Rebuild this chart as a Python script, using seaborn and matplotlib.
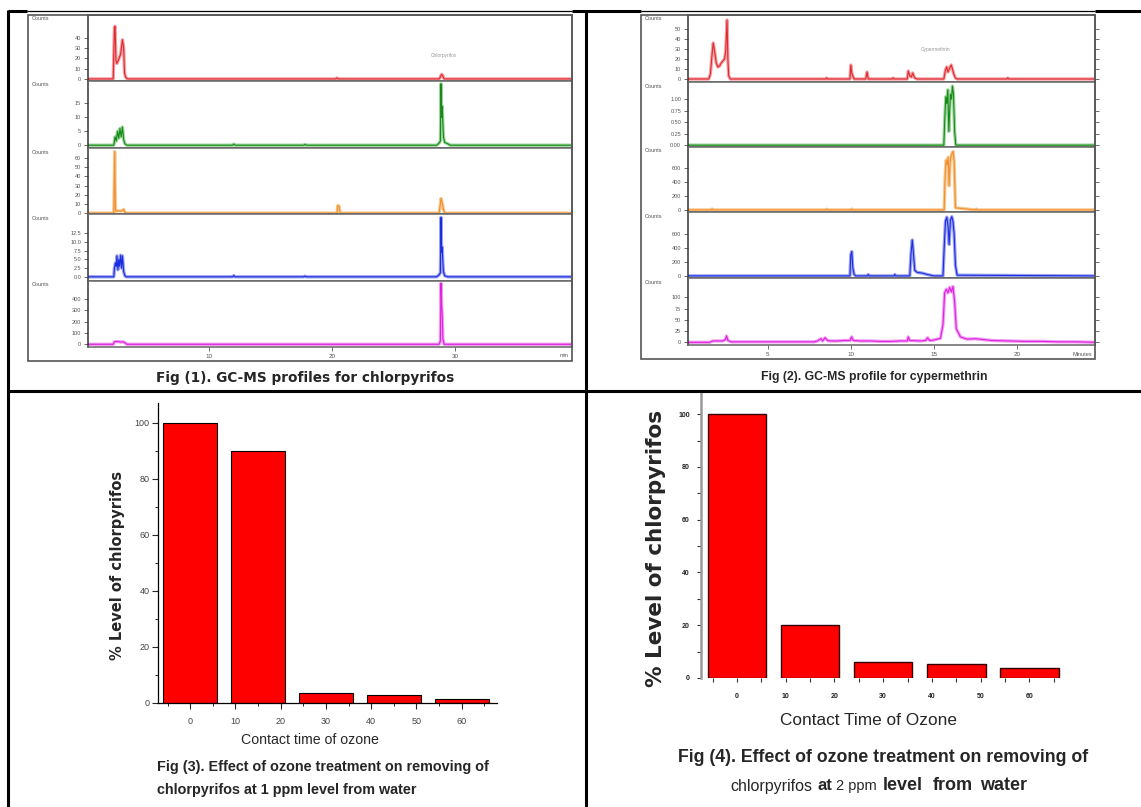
import numpy as np
import pandas as pd
import matplotlib
matplotlib.use('Agg')
import matplotlib.pyplot as plt
import seaborn as sns
from matplotlib.lines import Line2D
from matplotlib.patches import Rectangle
from matplotlib.ticker import MultipleLocator, FixedLocator

# ---------------- DATA ----------------
# Fig 1: GC-MS chromatograms for chlorpyrifos (retention time in min)
c1_red_x = [0.15, 2.2, 2.3, 2.35, 2.42, 2.5, 2.65, 2.8, 2.95, 3.05, 3.12, 3.2, 3.3, 3.4, 20.3, 20.4, 20.5, 28.7, 28.8, 28.9, 29.0, 29.1, 39.5]
c1_red_y = [0, 0, 50, 51, 18, 15, 19, 24, 38, 30, 6, 2, 0.5, 0, 0, 1, 0, 0, 2, 4.5, 3, 0, 0]
c1_green_x = [0.15, 2.25, 2.35, 2.45, 2.55, 2.65, 2.75, 2.85, 2.95, 3.05, 3.15, 3.3, 11.9, 12.0, 12.1, 17.7, 17.8, 17.9, 28.5, 28.7, 28.8, 28.85, 28.9, 28.95, 29.0, 29.05, 29.15, 29.4, 29.6, 39.5]
c1_green_y = [0, 0, 3, 1.5, 5, 2.5, 6, 3, 6.5, 2, 0.5, 0, 0, 0.4, 0, 0, 0.3, 0, 0, 0.8, 1.5, 22, 10, 14, 8, 3, 1, 0.5, 0, 0]
c1_orange_x = [0.15, 2.25, 2.32, 2.38, 2.45, 2.6, 2.8, 2.95, 3.05, 3.15, 3.25, 20.4, 20.45, 20.55, 20.65, 28.7, 28.8, 28.85, 28.95, 29.05, 29.15, 39.5]
c1_orange_y = [0, 0, 67, 3, 2, 2.5, 2, 3, 4, 1, 0, 0, 8, 8, 0, 0, 10, 16, 11, 4, 0, 0]
c1_blue_x = [0.15, 2.25, 2.3, 2.38, 2.45, 2.5, 2.58, 2.65, 2.72, 2.8, 2.88, 2.95, 3.05, 3.15, 3.25, 11.9, 12.0, 12.1, 17.7, 17.8, 17.9, 28.5, 28.7, 28.8, 28.85, 28.9, 28.95, 29.0, 29.05, 29.15, 29.4, 39.5]
c1_blue_y = [0, 0, 2.5, 4, 3, 6, 2, 5, 3, 6.2, 2.5, 6, 1.5, 0.3, 0, 0, 0.35, 0, 0, 0.2, 0, 0, 0.6, 1.2, 17, 7, 8.5, 4, 1.5, 0.3, 0, 0]
c1_mag_x = [0.15, 2.2, 2.3, 2.5, 2.8, 3.0, 3.2, 3.3, 28.7, 28.8, 28.85, 28.9, 28.95, 29.0, 29.1, 39.5]
c1_mag_y = [0, 0, 22, 25, 20, 22, 10, 0, 0, 30, 540, 350, 250, 50, 0, 0]

c1_red_ticks = [0, 10, 20, 30, 40]
c1_green_ticks = [0, 5, 10, 15]
c1_orange_ticks = [0, 10, 20, 30, 40, 50, 60]
c1_blue_ticks = [0.0, 2.5, 5.0, 7.5, 10.0, 12.5]
c1_mag_ticks = [0, 100, 200, 300, 400]
c1_time_ticks = [10, 20, 30]

# Fig 2: GC-MS chromatograms for cypermethrin
c2_red_x = [0.2, 1.45, 1.55, 1.65, 1.72, 1.8, 1.9, 2.0, 2.1, 2.2, 2.3, 2.4, 2.47, 2.55, 2.6, 2.65, 2.75, 8.5, 8.55, 8.6, 9.95, 10.0, 10.06, 10.12, 10.2, 10.9, 10.98, 11.05, 12.5, 12.55, 12.6, 13.4, 13.46, 13.55, 13.65, 13.72, 13.85, 14.0, 15.6, 15.7, 15.77, 15.85, 15.95, 16.05, 16.2, 16.3, 16.4, 19.4, 19.45, 19.5, 24.7]
c2_red_y = [0, 0, 5, 25, 36, 28, 16, 12, 13, 16, 18, 20, 28, 59, 20, 3, 0, 0, 1, 0, 0, 14, 6, 3, 0, 0, 7, 0, 0, 1, 0, 0, 8, 3, 2, 6, 1, 0, 0, 9, 12, 7, 11, 14, 5, 1, 0, 0, 1, 0, 0]
c2_green_x = [0.2, 15.6, 15.66, 15.72, 15.78, 15.84, 15.9, 15.96, 16.0, 16.06, 16.12, 16.18, 16.25, 16.32, 24.7]
c2_green_y = [0, 0, 0.6, 1.05, 0.9, 1.2, 0.3, 0.8, 1.1, 1.0, 1.28, 1.1, 0.3, 0, 0]
c2_orange_x = [0.2, 1.6, 1.65, 1.7, 8.5, 8.55, 8.6, 10.0, 10.05, 10.1, 15.62, 15.68, 15.74, 15.8, 15.86, 15.92, 15.98, 16.04, 16.1, 16.16, 16.22, 16.3, 17.5, 17.55, 17.6, 24.7]
c2_orange_y = [0, 0, 12, 0, 0, 10, 0, 0, 12, 0, 0, 500, 720, 650, 760, 350, 700, 780, 820, 845, 700, 30, 0, 12, 0, 0]
c2_blue_x = [0.2, 9.95, 10.0, 10.06, 10.12, 10.2, 10.3, 11.0, 11.05, 11.1, 12.6, 12.65, 12.7, 13.55, 13.62, 13.7, 13.76, 13.85, 14.0, 14.3, 14.6, 15.0, 15.55, 15.62, 15.7, 15.78, 15.86, 15.92, 16.0, 16.08, 16.15, 16.22, 16.3, 16.4, 24.7]
c2_blue_y = [0, 0, 300, 348, 120, 20, 0, 0, 20, 0, 0, 20, 0, 0, 300, 514, 350, 80, 50, 40, 20, 0, 0, 400, 780, 840, 700, 450, 800, 847, 780, 600, 150, 10, 0]
c2_mag_x = [0.2, 1.5, 1.7, 2.0, 2.3, 2.45, 2.52, 2.6, 2.8, 7.8, 8.0, 8.2, 8.3, 8.45, 8.6, 8.8, 9.2, 9.6, 9.95, 10.05, 10.15, 10.6, 11.2, 11.8, 12.4, 13.0, 13.4, 13.46, 13.55, 14.2, 14.5, 14.62, 14.75, 15.0, 15.4, 15.55, 15.65, 15.75, 15.85, 15.95, 16.05, 16.15, 16.25, 16.35, 16.6, 17.0, 17.5, 18.0, 18.5, 19.5, 20.5, 21.5, 22.5, 23.5, 24.7]
c2_mag_y = [0, 0, 3, 3, 3, 6, 14, 4, 1, 1, 3, 8, 3, 10, 4, 3, 3, 4, 4, 12, 4, 3, 3, 2, 2, 3, 3, 12, 4, 3, 4, 10, 4, 5, 9, 40, 110, 118, 110, 122, 112, 124, 90, 30, 12, 7, 8, 6, 4, 3, 2, 2, 1, 1, 0]

c2_red_ticks = [0, 10, 20, 30, 40, 50]
c2_green_ticks = [0.0, 0.25, 0.5, 0.75, 1.0]
c2_orange_ticks = [0, 200, 400, 600]
c2_blue_ticks = [0, 200, 400, 600]
c2_mag_ticks = [0, 25, 50, 75, 100]
c2_time_ticks = [5, 10, 15, 20]

# Fig 3 / Fig 4: % level of chlorpyrifos vs contact time of ozone (min)
contact_time = [0, 15, 30, 45, 60]
level_1ppm = [100, 90, 3.7, 2.8, 1.6]
level_2ppm = [100, 20, 6, 5.3, 3.8]
time_ticks = [0, 10, 20, 30, 40, 50, 60]
level_ticks = [0, 20, 40, 60, 80, 100]

# ---------------- LAYOUT HELPERS ----------------
sns.set_style('ticks')
plt.rcParams['font.family'] = ['Liberation Sans', 'DejaVu Sans']
SANS = ['Liberation Sans', 'DejaVu Sans']
WIDE = ['DejaVu Sans']

W, H = 1141, 807
fig = plt.figure(figsize=(W / 100, H / 100), dpi=100)


def ax_at(x0, y0, x1, y1):
    return fig.add_axes([x0 / W, 1 - y1 / H, (x1 - x0) / W, (y1 - y0) / H])


def ftext(x, y, s, **kw):
    return fig.text(x / W, 1 - y / H, s, **kw)


def fline(x0, y0, x1, y1, lw=2.2, color='black'):
    fig.add_artist(Line2D([x0 / W, x1 / W], [1 - y0 / H, 1 - y1 / H], color=color, lw=lw,
                          transform=fig.transFigure, solid_capstyle='butt'))


def fmt(v):
    if isinstance(v, float) and v != int(v):
        return f'{v:.2f}' if abs(v) < 1 else f'{v:.1f}'
    return str(int(v))


def chrom_panel(rows, left, right, bounds, xlim, xticks, box, right_ticks, min_label):
    bx0, by0, bx1, by1 = box
    fig.add_artist(Rectangle((bx0 / W, 1 - by1 / H), (bx1 - bx0) / W, (by1 - by0) / H,
                             transform=fig.transFigure, fill=False, ec='#555555', lw=1.2))
    for i, (xs, ys, color, light, ylim, yticks, yfmt) in enumerate(rows):
        ax = ax_at(left, bounds[i], right, bounds[i + 1])
        df = pd.DataFrame({'t': xs, 'v': ys})
        sns.lineplot(data=df, x='t', y='v', ax=ax, color=light, lw=2.4, sort=False, estimator=None)
        sns.lineplot(data=df, x='t', y='v', ax=ax, color=color, lw=0.8, sort=False, estimator=None)
        ax.set_xlim(*xlim)
        ax.set_ylim(*ylim)
        ax.set_xlabel('')
        ax.set_ylabel('')
        ax.set_yticks(yticks)
        ax.set_yticklabels([yfmt(v) for v in yticks], fontsize=4, color='#555555')
        ax.tick_params(axis='y', direction='out', length=3, width=0.6, pad=2, colors='#555555',
                       right=right_ticks)
        for sp in ax.spines.values():
            sp.set_color('#666666')
            sp.set_linewidth(1.1)
        ax.spines['left'].set_color('#333333')
        ftext(bx0 + 4, bounds[i] + 4, 'Counts', fontsize=4, color='#555555', va='center', ha='left')
        if i == len(rows) - 1:
            ax.set_xticks(xticks)
            ax.set_xticklabels([str(v) for v in xticks], fontsize=4.5, color='#555555')
            ax.tick_params(axis='x', direction='out', length=3, width=0.6, pad=2, colors='#555555')
        else:
            ax.set_xticks([])
    ftext(bx1 - 3, by1 - 5, min_label, fontsize=4, color='#555555', ha='right', va='center')


# ---------------- TABLE BORDERS ----------------
fline(8, 11, 27, 11)
fline(27, 11, 572, 11, lw=0.9)
fline(572, 11, 641, 11)
fline(641, 11, 1095, 11, lw=0.9)
fline(1095, 11, 1141, 11)
fline(8, 10, 8, 807)
fline(586, 10, 586, 807)
fline(8, 391, 1141, 391)

# ---------------- FIG 1 ----------------
rows1 = [
    (c1_red_x, c1_red_y, '#e0282e', '#f4a0a4', (-2, 62), c1_red_ticks, fmt),
    (c1_green_x, c1_green_y, '#168a16', '#9ed49e', (-1, 23), c1_green_ticks, fmt),
    (c1_orange_x, c1_orange_y, '#f09030', '#f8c890', (-1, 71), c1_orange_ticks, fmt),
    (c1_blue_x, c1_blue_y, '#1c2ce0', '#9aa2f0', (-1.2, 18), c1_blue_ticks, lambda v: f'{v:.1f}'),
    (c1_mag_x, c1_mag_y, '#e020e0', '#f09cf0', (-24, 560), c1_mag_ticks, fmt),
]
chrom_panel(rows1, 88, 572, [15, 81, 148, 214, 281, 347], (0.15, 39.5), c1_time_ticks,
            (28, 15, 572, 361), False, 'min')
ftext(444, 56, 'Chlorpyrifos', fontsize=3.5, color='#999999', ha='center', va='center')
ftext(305, 378, 'Fig (1). GC-MS profiles for chlorpyrifos', fontsize=9.8, fontweight='bold',
      family=WIDE, ha='center', va='center')

# ---------------- FIG 2 ----------------
rows2 = [
    (c2_red_x, c2_red_y, '#e0282e', '#f4a0a4', (-3, 64), c2_red_ticks, fmt),
    (c2_green_x, c2_green_y, '#168a16', '#9ed49e', (-0.04, 1.37), c2_green_ticks, lambda v: f'{v:.2f}'),
    (c2_orange_x, c2_orange_y, '#f09030', '#f8c890', (-30, 910), c2_orange_ticks, fmt),
    (c2_blue_x, c2_blue_y, '#1c2ce0', '#9aa2f0', (-30, 914), c2_blue_ticks, fmt),
    (c2_mag_x, c2_mag_y, '#e020e0', '#f09cf0', (-6, 143), c2_mag_ticks, fmt),
]
chrom_panel(rows2, 688, 1095, [15, 82, 147, 212, 278, 345], (0.2, 24.7), c2_time_ticks,
            (641, 15, 1095, 359), True, 'Minutes')
ftext(936, 50, 'Cypermethrin', fontsize=3.5, color='#999999', ha='center', va='center')
ftext(874, 377, 'Fig (2). GC-MS profile for cypermethrin', fontsize=8.8, fontweight='bold',
      family=SANS, ha='center', va='center')

# ---------------- FIG 3 ----------------
ax3 = ax_at(158, 403, 497, 703)
sns.barplot(x=contact_time, y=level_1ppm, native_scale=True, orient='v', color='#ff0000',
            saturation=1, edgecolor='black', linewidth=0.8, width=0.8, ax=ax3)
ax3.set_xlim(-7.1, 67.8)
ax3.set_ylim(0, 107)
ax3.xaxis.set_major_locator(FixedLocator(time_ticks))
ax3.xaxis.set_minor_locator(FixedLocator([-5, 5, 15, 25, 35, 45, 55, 65]))
ax3.yaxis.set_major_locator(FixedLocator(level_ticks))
ax3.yaxis.set_minor_locator(FixedLocator([10, 30, 50, 70, 90]))
ax3.set_xticklabels([str(v) for v in time_ticks], fontsize=6.5, color='#444444')
ax3.set_yticklabels([str(v) for v in level_ticks], fontsize=6.5, color='#444444')
ax3.tick_params(which='major', direction='out', length=4, width=0.8, pad=6)
ax3.tick_params(axis='y', which='major', pad=2)
ax3.tick_params(which='minor', direction='out', length=2.5, width=0.7)
for s in ['top', 'right']:
    ax3.spines[s].set_visible(False)
for s in ['left', 'bottom']:
    ax3.spines[s].set_linewidth(0.9)
    ax3.spines[s].set_color('black')
ax3.set_ylabel('% Level of chlorpyrifos', fontsize=10.5, fontweight='bold', family=WIDE)
ax3.yaxis.set_label_coords((125 - 158) / 339, (703 - 565) / 300)
ax3.set_xlabel('Contact time of ozone', fontsize=10.2, family=SANS)
ax3.xaxis.set_label_coords((310 - 158) / 339, -(733 - 703) / 300)
ftext(157, 767, 'Fig (3). Effect of ozone treatment on removing of', fontsize=10.4, fontweight='bold',
      family=SANS, ha='left', va='center')
ftext(157, 790, 'chlorpyrifos at 1 ppm level from water', fontsize=10.4, fontweight='bold',
      family=SANS, ha='left', va='center')

# ---------------- FIG 4 ----------------
ax4 = ax_at(701, 393, 1062, 678)
sns.barplot(x=contact_time, y=level_2ppm, native_scale=True, orient='v', color='#ff0000',
            saturation=1, edgecolor='#330000', linewidth=1.0, width=0.8, ax=ax4)
ax4.set_xlim(-7.4, 66.7)
ax4.set_ylim(0, 108)
ax4.xaxis.set_major_locator(FixedLocator(time_ticks))
ax4.xaxis.set_minor_locator(FixedLocator([-5, 5, 15, 25, 35, 45, 55, 65]))
ax4.yaxis.set_major_locator(FixedLocator(level_ticks))
ax4.yaxis.set_minor_locator(FixedLocator([10, 30, 50, 70, 90]))
ax4.set_xticklabels([str(v) for v in time_ticks], fontsize=5, fontweight='bold', color='#222222')
ax4.set_yticklabels([str(v) for v in level_ticks], fontsize=5, fontweight='bold', color='#222222')
ax4.tick_params(which='both', direction='out', length=3, width=0.8, color='#333333')
ax4.tick_params(axis='x', which='major', pad=8)
ax4.tick_params(axis='y', which='major', pad=5)
for s in ['top', 'right', 'bottom']:
    ax4.spines[s].set_visible(False)
ax4.spines['left'].set_color('#999999')
ax4.spines['left'].set_linewidth(1.8)
ax4.set_ylabel('% Level of chlorpyrifos', fontsize=15.5, fontweight='bold', family=WIDE)
ax4.yaxis.set_label_coords((666 - 701) / 361, (678 - 548) / 285)
ax4.set_xlabel('Contact Time of Ozone', fontsize=12.4, family=SANS)
ax4.xaxis.set_label_coords((868 - 701) / 361, -(713 - 678) / 285)
ftext(678, 757, 'Fig (4). Effect of ozone treatment on removing of', fontsize=12.8, fontweight='bold',
      family=SANS, ha='left', va='center')
ftext(730, 786, 'chlorpyrifos', fontsize=11.5, family=SANS, ha='left', va='center')
ftext(818, 786, 'at', fontsize=12, fontweight='bold', family=SANS, ha='left', va='center')
ftext(836, 786, '2 ppm', fontsize=10.5, family=SANS, ha='left', va='center')
ftext(883, 785, 'level', fontsize=13, fontweight='bold', family=SANS, ha='left', va='center')
ftext(933, 785, 'from', fontsize=13, fontweight='bold', family=SANS, ha='left', va='center')
ftext(980, 785, 'water', fontsize=13, fontweight='bold', family=SANS, ha='left', va='center')

fig.savefig('out.png', dpi=100)
